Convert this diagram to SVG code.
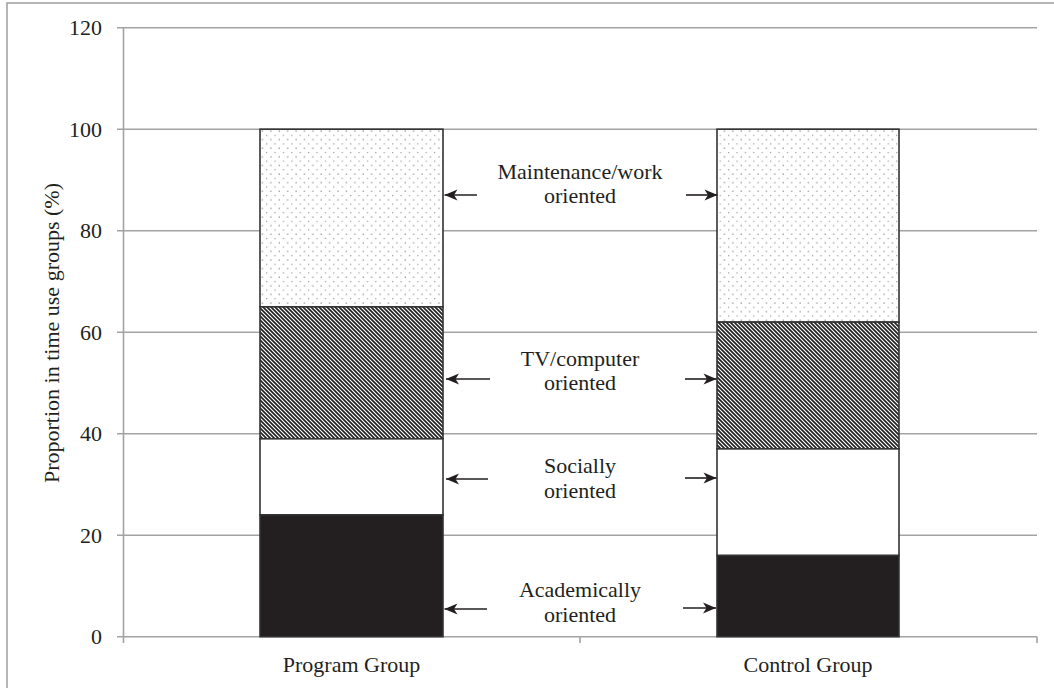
<svg xmlns="http://www.w3.org/2000/svg" width="1054" height="688" viewBox="0 0 1054 688">
<style>
  text { font-family: "Liberation Serif", "Times New Roman", serif; font-size: 22px; fill: #231f20; }
  .grid { stroke: #a3a3a3; stroke-width: 1.6; fill: none; }
  .seg { stroke: #333; stroke-width: 1.6; }
  .arrow { stroke: #231f20; stroke-width: 1.6; fill: none; marker-end: url(#head); }
  .lbl { text-anchor: middle; }
  .tick { text-anchor: end; }
</style>
<defs>
  <pattern id="dots" patternUnits="userSpaceOnUse" width="8.4" height="8.6">
    <rect width="8.4" height="8.6" fill="#fff"/>
    <rect x="1.5" y="1.5" width="1.1" height="1.1" fill="#666"/>
    <rect x="5.7" y="5.8" width="1.1" height="1.1" fill="#888"/>
  </pattern>
  <pattern id="hatch" patternUnits="userSpaceOnUse" width="4" height="4">
    <rect width="4" height="4" fill="#fff"/>
    <path d="M-1,-1 L5,5 M-1,3 L1,5 M3,-1 L5,1" stroke="#222" stroke-width="1.7"/>
  </pattern>
  <marker id="head" markerUnits="userSpaceOnUse" markerWidth="16" markerHeight="14" refX="14" refY="7" orient="auto">
    <path d="M1,1.5 L14,7 L1,12.5 L4.5,7 Z" fill="#231f20"/>
  </marker>
</defs>

<rect x="7" y="3" width="1060" height="700" fill="none" stroke="#a3a3a3" stroke-width="1.6"/>

<g id="axes">
  <path class="grid" d="M117,27.7 H1037 M117,129.2 H1037 M117,230.7 H1037 M117,332.2 H1037 M117,433.7 H1037 M117,535.2 H1037 M117,636.7 H1037"/>
  <path class="grid" d="M123.5,27.7 V643 M580,636.7 V643 M1037,636.7 V643"/>
  <text class="tick" x="102" y="35.2">120</text>
  <text class="tick" x="102" y="136.7">100</text>
  <text class="tick" x="102" y="238.2">80</text>
  <text class="tick" x="102" y="339.7">60</text>
  <text class="tick" x="102" y="441.2">40</text>
  <text class="tick" x="102" y="542.7">20</text>
  <text class="tick" x="102" y="644.2">0</text>
  <text class="lbl" transform="translate(59,333) rotate(-90)">Proportion in time use groups (%)</text>
  <text class="lbl" x="351.5" y="671.5">Program Group</text>
  <text class="lbl" x="808" y="671.5">Control Group</text>
</g>

<g id="program-bar">
  <rect class="seg" x="260" y="129.2" width="183" height="177.6" fill="url(#dots)"/>
  <rect class="seg" x="260" y="306.8" width="183" height="132" fill="url(#hatch)"/>
  <rect class="seg" x="260" y="438.8" width="183" height="76.1" fill="#fff"/>
  <rect class="seg" x="260" y="514.9" width="183" height="121.8" fill="#231f20"/>
</g>

<g id="control-bar">
  <rect class="seg" x="717" y="129.2" width="182" height="192.9" fill="url(#dots)"/>
  <rect class="seg" x="717" y="322.1" width="182" height="126.8" fill="url(#hatch)"/>
  <rect class="seg" x="717" y="448.9" width="182" height="106.6" fill="#fff"/>
  <rect class="seg" x="717" y="555.5" width="182" height="81.2" fill="#231f20"/>
</g>

<g id="label-maintenance">
  <text class="lbl" x="580" y="179">Maintenance/work</text>
  <text class="lbl" x="580" y="203">oriented</text>
</g>
<g id="label-tv">
  <text class="lbl" x="580" y="366">TV/computer</text>
  <text class="lbl" x="580" y="390">oriented</text>
</g>
<g id="label-social">
  <text class="lbl" x="580" y="473">Socially</text>
  <text class="lbl" x="580" y="498">oriented</text>
</g>
<g id="label-academic">
  <text class="lbl" x="580" y="597">Academically</text>
  <text class="lbl" x="580" y="622">oriented</text>
</g>

<g id="connectors">
  <line class="arrow" x1="477" y1="195" x2="444.5" y2="195"/>
  <line class="arrow" x1="490" y1="379" x2="446" y2="379"/>
  <line class="arrow" x1="488" y1="479" x2="446" y2="479"/>
  <line class="arrow" x1="487" y1="609" x2="444.5" y2="609"/>
  <line class="arrow" x1="686" y1="195" x2="717.5" y2="195"/>
  <line class="arrow" x1="685" y1="379" x2="716.5" y2="379"/>
  <line class="arrow" x1="685" y1="478" x2="716.5" y2="478"/>
  <line class="arrow" x1="683" y1="608" x2="716" y2="608"/>
</g>
</svg>
